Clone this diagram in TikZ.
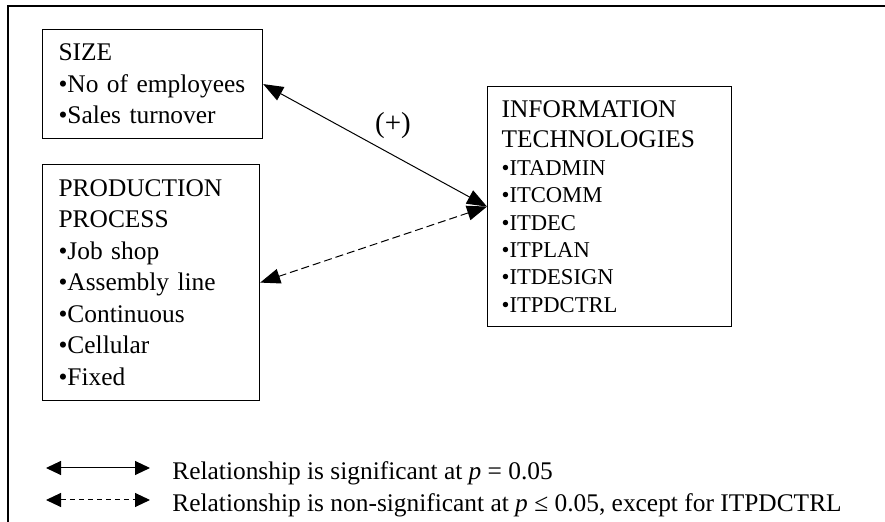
\documentclass[tikz,border=0pt]{standalone}
\usepackage{fontspec}
\setmainfont{Liberation Serif}
\usetikzlibrary{arrows.meta}
\tikzset{
	box/.style={draw,line width=.6pt,anchor=north west,align=left,inner xsep=8pt,inner ysep=0pt,
		font=\fontsize{12.7}{15.75}\selectfont},
	sig/.style={line width=.5pt,{Triangle[length=10pt,width=7.5pt]}-{Triangle[length=10pt,width=7.5pt]}},
	nonsig/.style={sig,dash pattern=on 4pt off 2pt},
	legsig/.style={line width=.5pt,{Triangle[length=7.5pt,width=7pt]}-{Triangle[length=7.5pt,width=7pt]}},
	legnonsig/.style={legsig,dash pattern=on 2.5pt off 2pt},
}
\begin{document}
\begin{tikzpicture}[x=.5pt,y=-.5pt]
			\useasboundingbox (0,0) rectangle (885,522);
			% frame
			\draw[line width=1pt] (8,522) -- (8,6) -- (885,6);
			% boxes
			\node[box,text width=94pt,minimum width=110pt,minimum height=54.5pt] (size) at (42,29)
				{SIZE\\\textbullet No of employees\\\textbullet Sales turnover};
			\node[box,text width=92.5pt,minimum width=108.5pt,minimum height=118pt] (prod) at (42,164)
				{PRODUCTION\\PROCESS\\\textbullet Job shop\\\textbullet Assembly line\\\textbullet Continuous\\\textbullet Cellular\\\textbullet Fixed};
			\node[box,text width=108pt,minimum width=115.5pt,minimum height=120pt,inner xsep=7pt,
				font=\fontsize{11.3}{13.7}\selectfont] (it) at (487,86)
				{{\fontsize{12.7}{15}\selectfont INFORMATION}\\[1.3pt]{\fontsize{12.7}{15}\selectfont TECHNOLOGIES}\\[.3pt]
				\textbullet ITADMIN\\\textbullet ITCOMM\\\textbullet ITDEC\\\textbullet ITPLAN\\\textbullet ITDESIGN\\\textbullet ITPDCTRL};
			% relationships
			\draw[sig] (size.east) -- node[pos=.58,yshift=15pt,font=\fontsize{14.5}{16}\selectfont] {(+)} (it.west);
			\draw[nonsig] (it.west) -- (prod.east);
			% legend
			\foreach \n/\y/\sty/\txt in {a/468/legsig/{Relationship is significant at \textit{p} = 0.05},
				b/500/legnonsig/{Relationship is non-significant at \textit{p} ≤ 0.05, except for ITPDCTRL}}
				{
					\coordinate (la\n) at (46,\y);
					\coordinate (lb\n) at (150,\y);
					\draw[\sty] (la\n) -- (lb\n);
					\node[anchor=base west,inner sep=0pt,font=\fontsize{12.7}{15}\selectfont] (lt\n) at (172,\y+12) {\txt};
				}
		\end{tikzpicture}
\end{document}
